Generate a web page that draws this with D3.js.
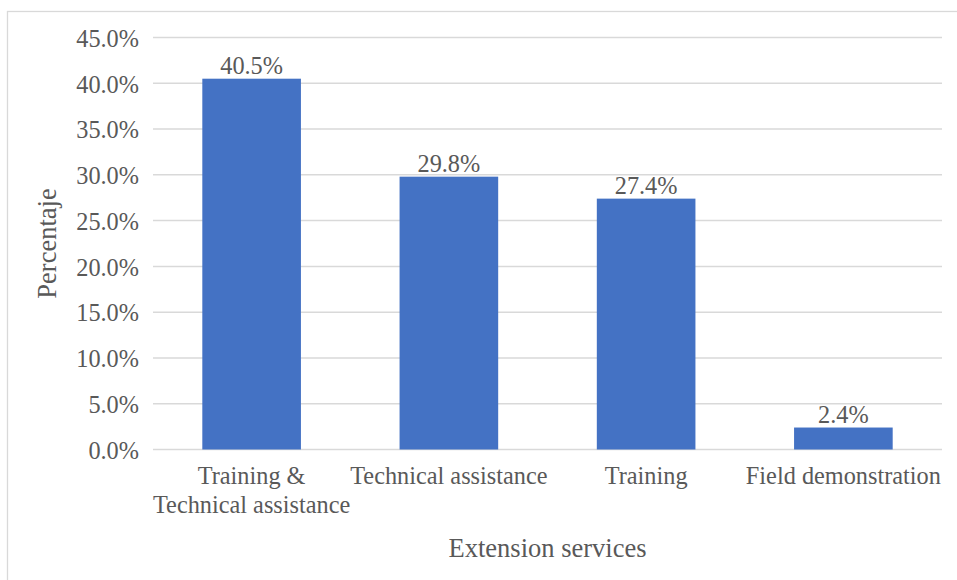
<!DOCTYPE html>
<html>
<head>
<meta charset="utf-8">
<script src="https://cdn.jsdelivr.net/npm/d3@7"></script>
<style>
  html, body { margin: 0; padding: 0; background: #ffffff; }
  svg { display: block; }
  text { font-family: "Liberation Serif", "Times New Roman", serif; fill: #595959; }
</style>
</head>
<body>
<svg id="chart" width="957" height="580"></svg>
<script>
const categories = ["Training & Technical assistance", "Technical assistance", "Training", "Field demonstration"];
const categoryLines = [["Training &", "Technical assistance"], ["Technical assistance"], ["Training"], ["Field demonstration"]];
const values = [40.5, 29.8, 27.4, 2.4];
const tickValues = [0, 5, 10, 15, 20, 25, 30, 35, 40, 45];
const xTitle = "Extension services";
const yTitle = "Percentaje";

(function () {
const svg = d3.select("#chart");
const plotLeft = 153, plotRight = 942, plotTop = 37.5, plotBottom = 449.5;
const FONT = '"Liberation Serif", "Times New Roman", serif';
const LBL = "24.3px";

// outer border
svg.append("rect")
  .attr("x", 7.5).attr("y", 11.5)
  .attr("width", 960).attr("height", 580)
  .attr("fill", "none").attr("stroke", "#d9d9d9").attr("stroke-width", 1.3);

const x = d3.scaleBand().domain(categories).range([plotLeft, plotRight]).paddingInner(0.5).paddingOuter(0.25);
const y = d3.scaleLinear().domain([0, 45]).range([plotBottom, plotTop]);

// gridlines
svg.append("g").selectAll("line").data(tickValues).join("line")
  .attr("x1", plotLeft).attr("x2", plotRight)
  .attr("y1", d => y(d)).attr("y2", d => y(d))
  .attr("stroke", "#d9d9d9").attr("stroke-width", 1.5);

// y axis labels
const yAxis = d3.axisLeft(y).tickValues(tickValues).tickFormat(d => d.toFixed(1) + "%").tickSize(0).tickPadding(14);
const yg = svg.append("g").attr("transform", `translate(${plotLeft},0)`).call(yAxis)
  .attr("font-family", FONT).attr("font-size", LBL);
yg.select(".domain").remove();
yg.selectAll("text").style("font-size", LBL).attr("fill", "#595959")
  .style("font-family", FONT).attr("dy", "0.36em");

// bars
svg.append("g").selectAll("rect").data(values).join("rect")
  .attr("x", (d, i) => x(categories[i]))
  .attr("y", d => y(d))
  .attr("width", x.bandwidth())
  .attr("height", d => y(0) - y(d))
  .attr("fill", "#4472c4");

// data labels
svg.append("g").selectAll("text").data(values).join("text")
  .attr("x", (d, i) => x(categories[i]) + x.bandwidth() / 2)
  .attr("y", d => y(d) - 5)
  .attr("text-anchor", "middle")
  .style("font-family", FONT)
  .style("font-size", LBL)
  .text(d => d.toFixed(1) + "%");

// x labels
const xl = svg.append("g");
categories.forEach((c, i) => {
  const cx = x(c) + x.bandwidth() / 2;
  categoryLines[i].forEach((line, j) => {
    xl.append("text")
      .attr("x", cx).attr("y", 484 + j * 28.5)
      .attr("text-anchor", "middle")
      .style("font-family", FONT)
      .style("font-size", LBL)
      .text(line);
  });
});

// axis titles
svg.append("text")
  .attr("x", (plotLeft + plotRight) / 2).attr("y", 557)
  .attr("text-anchor", "middle")
  .style("font-family", FONT)
  .style("font-size", "26.5px")
  .text(xTitle);

svg.append("text")
  .attr("transform", `translate(56,${(plotTop + plotBottom) / 2}) rotate(-90)`)
  .attr("text-anchor", "middle")
  .style("font-family", FONT)
  .style("font-size", "26.5px")
  .text(yTitle);
})();
</script>
</body>
</html>
